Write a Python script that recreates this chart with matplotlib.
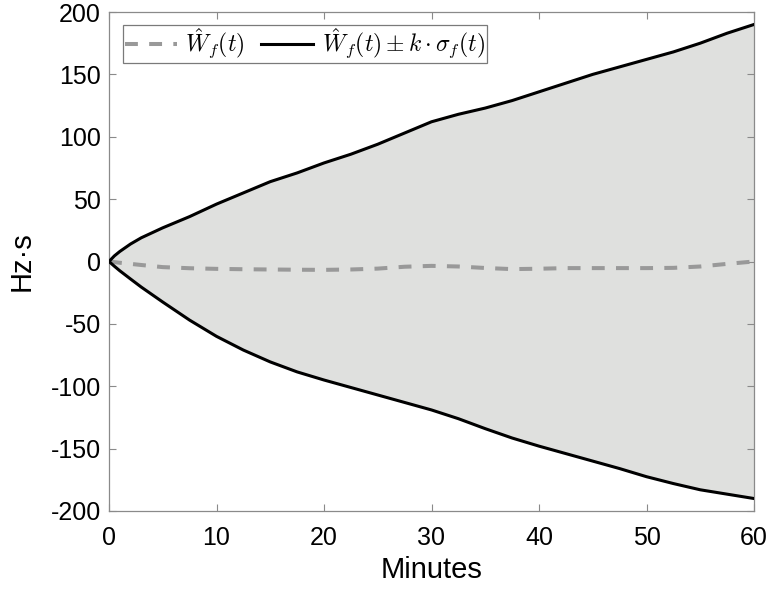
import matplotlib
matplotlib.use("Agg")
import matplotlib.pyplot as plt
import numpy as np

minutes = [0, 0.5, 1, 2, 3, 5, 7.5, 10, 12.5, 15, 17.5, 20, 22.5, 25, 27.5, 30,
           32.5, 35, 37.5, 40, 42.5, 45, 47.5, 50, 52.5, 55, 57.5, 60]
upper = [0, 4.5, 8, 14, 19, 27, 36, 46, 55, 64, 71, 79, 86, 94, 103, 112,
         118, 123, 129, 136, 143, 150, 156, 162, 168, 175, 183, 190]
lower = [0, -3.8, -7.4, -14, -20.5, -32.5, -47, -60, -71, -80.5, -88.5, -95, -101, -107, -113, -119,
         -126, -134, -141.5, -148, -154, -160, -166, -172.5, -178, -183, -186.5, -190]
mean_w = [0, -0.5, -1, -1.9, -2.8, -4.5, -5.4, -5.9, -6.2, -6.4, -6.6, -6.7, -6.4, -5.7, -4.2, -3.5,
          -4.0, -5.2, -6.1, -5.8, -5.3, -5.3, -5.3, -5.3, -5.1, -4.0, -1.9, 0]

xticks = [0, 10, 20, 30, 40, 50, 60]
yticks = [-200, -150, -100, -50, 0, 50, 100, 150, 200]

plt.rcParams['font.family'] = ['Liberation Sans', 'DejaVu Sans']
plt.rcParams['mathtext.fontset'] = 'cm'

fig = plt.figure(figsize=(7.69, 5.92), dpi=100)
ax = fig.add_axes([109/769, 1 - 511/592, (754-109)/769, (511-12)/592])

ax.fill_between(minutes, lower, upper, color='#dfe0de', linewidth=0, zorder=1)
ax.plot(minutes, mean_w, color='#999999', linestyle=(0, (3.2, 2.8)), linewidth=2.9,
        label=r'$\hat{W}_f(t)$', zorder=3)
ax.plot(minutes, upper, color='black', linewidth=2.2,
        label=r'$\hat{W}_f(t) \pm k \cdot \sigma_f(t)$', zorder=4)
ax.plot(minutes, lower, color='black', linewidth=2.2, zorder=4)

ax.set_xlim(0, 60)
ax.set_ylim(-200, 200)
ax.set_xticks(xticks)
ax.set_yticks(yticks)
ax.set_xticklabels([str(v) for v in xticks])
ax.set_yticklabels([str(v) for v in yticks])
ax.tick_params(direction='in', top=True, right=True, labelsize=18, length=5,
               color='#8a8a8a', width=0.8, pad=6)
ax.tick_params(axis='x', pad=11)
for s in ax.spines.values():
    s.set_color('#8a8a8a')
    s.set_linewidth(0.9)

ax.set_xlabel('Minutes', fontsize=21, labelpad=4)
ax.set_ylabel('Hz·s', fontsize=21, labelpad=11)

leg = ax.legend(loc='upper left', ncol=2, fontsize=17, frameon=True, fancybox=False,
                edgecolor='#7a7a7a', framealpha=1, handlelength=2.2,
                columnspacing=0.7, handletextpad=0.35, borderpad=0.08,
                borderaxespad=0, bbox_to_anchor=(0.022, 0.974))
leg.get_frame().set_linewidth(0.9)

fig.savefig('out.png', dpi=100)
